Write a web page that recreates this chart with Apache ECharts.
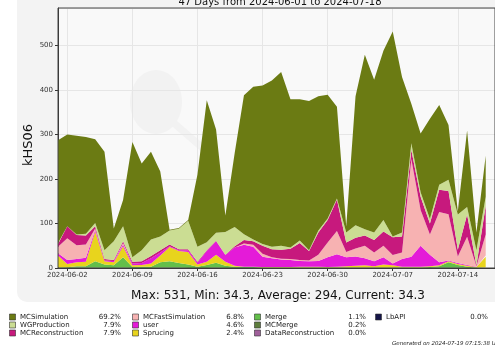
<!DOCTYPE html>
<html>
<head>
<meta charset="utf-8">
<script src="https://cdn.jsdelivr.net/npm/echarts@6/dist/echarts.min.js"></script>
<style>
  html, body { margin: 0; padding: 0; background: #fff; }
  #main { width: 495px; height: 347px; }
</style>
</head>
<body>
<div id="main"></div>
<script>
// daily values, kHS06, 2024-06-01 .. 2024-07-17
var mcSimulation = [231, 206, 222, 217, 188, 221, 29, 59, 259, 195, 197, 146, 2, 2, 2, 162, 319, 232, 37, 166,
    312, 343, 356, 373, 390, 333, 317, 335, 302, 278, 206, 13, 290, 392, 343, 380, 460, 349, 89, 132,
    225, 179, 123, 7, 172, 40, 92];
var wgProduction = [2, 0, 1, 4, 7, 20, 42, 34, 10, 25, 37, 31, 31, 46, 64, 34, 18, 18, 51, 43,
    13, 4, 4, 6, 9, 3, 6, 2, 4, 3, 2, 23, 28, 14, 17, 26, 2, 9, 15, 10,
    10, 11, 25, 79, 17, 34, 20];
var mcReconstruction = [6, 27, 23, 20, 5, 3, 2, 4, 4, 4, 5, 5, 4, 2, 2, 2, 2, 1, 1, 3,
    8, 8, 18, 18, 20, 23, 38, 21, 50, 51, 71, 21, 24, 23, 28, 32, 40, 36, 20, 30,
    25, 50, 52, 15, 50, 2, 65];
var mcFastSimulation = [15, 49, 31, 30, 3, 0, 0, 3, 0, 0, 0, 0, 0, 0, 0, 0, 0, 0, 0, 0,
    3, 4, 7, 2, 2, 2, 2, 2, 14, 33, 52, 12, 18, 28, 20, 26, 19, 15, 220, 80,
    45, 113, 104, 15, 63, 1, 47];
var user = [5, 9, 7, 9, 4, 2, 3, 4, 4, 4, 12, 7, 2, 2, 4, 4, 24, 30, 15, 41,
    49, 45, 23, 20, 17, 16, 13, 12, 13, 22, 28, 20, 21, 16, 11, 16, 4, 17, 22, 47,
    26, 7, 2, 2, 2, 1, 3];
var sprucing = [27, 7.5, 9, 10, 67, 7, 7, 25, 4, 4, 7, 15, 32, 27, 28, 5, 7, 18, 9, 2,
    1, 1, 1, 1, 1, 1, 2, 2, 2, 1, 2, 3, 4, 5, 3, 7, 5, 2, 2, 2,
    2, 2, 2, 2, 2, 1, 24];
var merge = [1, 1.5, 3, 3, 14, 8, 6, 23, 2, 3, 3, 12, 14, 10, 8, 3, 7, 11, 5, 3,
    2, 2, 1, 1, 1, 1, 1, 1, 1, 1, 1, 1, 1, 1, 1, 1, 1, 1, 1, 1,
    2, 3, 12, 6, 3, 1, 1];
var mcMerge = [0, 0, 1, 1, 1, 0, 0, 1, 0, 0, 0, 1, 1, 1, 0, 0, 0, 1, 0, 0,
    0, 0, 0, 0, 0, 0, 0, 0, 0, 0, 0, 0, 0, 0, 0, 0, 0, 0, 0, 0,
    0, 1, 1, 1, 0, 0, 0];
var dataReconstruction = [];
var lbApi = [];

var seriesNames = ['MCSimulation', 'WGProduction', 'MCReconstruction', 'MCFastSimulation', 'user',
    'Sprucing', 'Merge', 'MCMerge', 'DataReconstruction', 'LbAPI'];
var seriesData = [mcSimulation, wgProduction, mcReconstruction, mcFastSimulation, user,
    sprucing, merge, mcMerge, dataReconstruction, lbApi];
var seriesColors = ['#6b7b13', '#cbdd93', '#c7197d', '#f7b2b2', '#e41bd8',
    '#e8d41d', '#63bf4a', '#5d7d3c', '#a0609a', '#151548'];
var legendPercent = ['69.2%', '7.9%', '7.9%', '6.8%', '4.6%', '2.4%', '1.1%', '0.2%', '0.0%', '0.0%'];
var yTicks = [0, 100, 200, 300, 400, 500];

// 48 day boundaries from 2024-06-01 to 2024-07-18
var days = [];
var d0 = Date.UTC(2024, 5, 1);
for (var i = 0; i < 48; i++) {
    days.push(new Date(d0 + i * 86400000).toISOString().slice(0, 10));
}

var chart = echarts.init(document.getElementById('main'));
var font = 'DejaVu Sans';
var isMajor = function (index) { return index % 7 === 1; };

// stack bottom is the last legend entry
var series = [];
for (var k = seriesNames.length - 1; k >= 0; k--) {
    series.push({
        name: seriesNames[k],
        type: 'line',
        stack: 'all',
        data: seriesData[k],
        symbol: 'none',
        lineStyle: { width: 0 },
        areaStyle: { color: seriesColors[k], opacity: 1 },
        itemStyle: { color: seriesColors[k] },
        animation: false,
        z: 3
    });
}

var wm = '#f2f2f2';
var graphics = [
    { type: 'rect', shape: { x: 17, y: -12, width: 500, height: 314, r: 10 },
      style: { fill: '#f3f3f3' }, z: -20 },
    { type: 'rect', shape: { x: 58, y: 8, width: 443, height: 260 },
      style: { fill: '#f9f9f9' }, z: -10 },
    // faint logo watermark
    { type: 'line', shape: { x1: 168, y1: 118, x2: 205, y2: 150 },
      style: { stroke: wm, lineWidth: 7, lineCap: 'round' }, z: -9 },
    { type: 'ellipse', shape: { cx: 156, cy: 102, rx: 26, ry: 32 },
      style: { fill: wm }, z: -9 },
    { type: 'text', x: 280, y: -3,
      style: { text: '47 Days from 2024-06-01 to 2024-07-18', font: '10px "DejaVu Sans"', fill: '#111', align: 'center' }, z: 10 },
    { type: 'text', x: 29, y: 145, rotation: Math.PI / 2,
      style: { text: 'kHS06', font: '13px "DejaVu Sans"', fill: '#111', align: 'center', verticalAlign: 'middle' }, z: 10 },
    { type: 'text', x: 278, y: 296,
      style: { text: 'Max: 531, Min: 34.3, Average: 294, Current: 34.3', font: '12px "DejaVu Sans"', fill: '#111',
               align: 'center', verticalAlign: 'middle' }, z: 10 },
    { type: 'text', x: 392, y: 344,
      style: { text: 'Generated on 2024-07-19 07:15:38 UTC', font: 'italic 5.5px "DejaVu Sans"', fill: '#222',
               verticalAlign: 'middle' }, z: 10 }
];

// legend: 3 rows, filled column by column
var colX = [12, 135, 257, 378];
var pctX = [121, 244, 366, 488];
var rowY = [317, 325, 333];
for (var n = 0; n < seriesNames.length; n++) {
    var c = Math.floor(n / 3), r = n % 3;
    graphics.push({ type: 'rect', shape: { x: colX[c] - 2.5, y: rowY[r] - 3, width: 6, height: 6 },
        style: { fill: seriesColors[n], stroke: '#333', lineWidth: 0.6 }, z: 10 });
    graphics.push({ type: 'text', x: colX[c] + 8, y: rowY[r],
        style: { text: seriesNames[n], font: '7px "DejaVu Sans"', fill: '#222', verticalAlign: 'middle' }, z: 10 });
    graphics.push({ type: 'text', x: pctX[c], y: rowY[r],
        style: { text: legendPercent[n], font: '7px "DejaVu Sans"', fill: '#222', align: 'right', verticalAlign: 'middle' }, z: 10 });
}

var option = {
    backgroundColor: '#ffffff',
    animation: false,
    grid: { left: 58, top: 8, right: -6, bottom: 79, show: true, borderColor: '#444', borderWidth: 1, z: 4 },
    xAxis: {
        type: 'category',
        data: days,
        boundaryGap: false,
        axisLine: { lineStyle: { color: '#333' } },
        axisTick: { interval: function (idx) { return isMajor(idx); }, length: 3, lineStyle: { color: '#333' } },
        axisLabel: { interval: function (idx) { return isMajor(idx); }, fontFamily: font, fontSize: 7, color: '#333', margin: 4 },
        splitLine: { show: true, interval: function (idx) { return isMajor(idx); }, lineStyle: { color: '#e6e6e6', width: 1 } },
        z: 1
    },
    yAxis: {
        type: 'value',
        min: 0,
        max: 584,
        interval: 100,
        axisLine: { show: true, lineStyle: { color: '#333' } },
        axisTick: { show: true, length: 3, lineStyle: { color: '#333' } },
        axisLabel: { fontFamily: font, fontSize: 7, color: '#333', margin: 5, showMaxLabel: false,
            formatter: function (v) { return yTicks.indexOf(v) >= 0 ? String(v) : ''; } },
        splitLine: { show: true, lineStyle: { color: '#e6e6e6', width: 1 } },
        z: 1
    },
    graphic: graphics,
    series: series
};

chart.setOption(option);
</script>
</body>
</html>
